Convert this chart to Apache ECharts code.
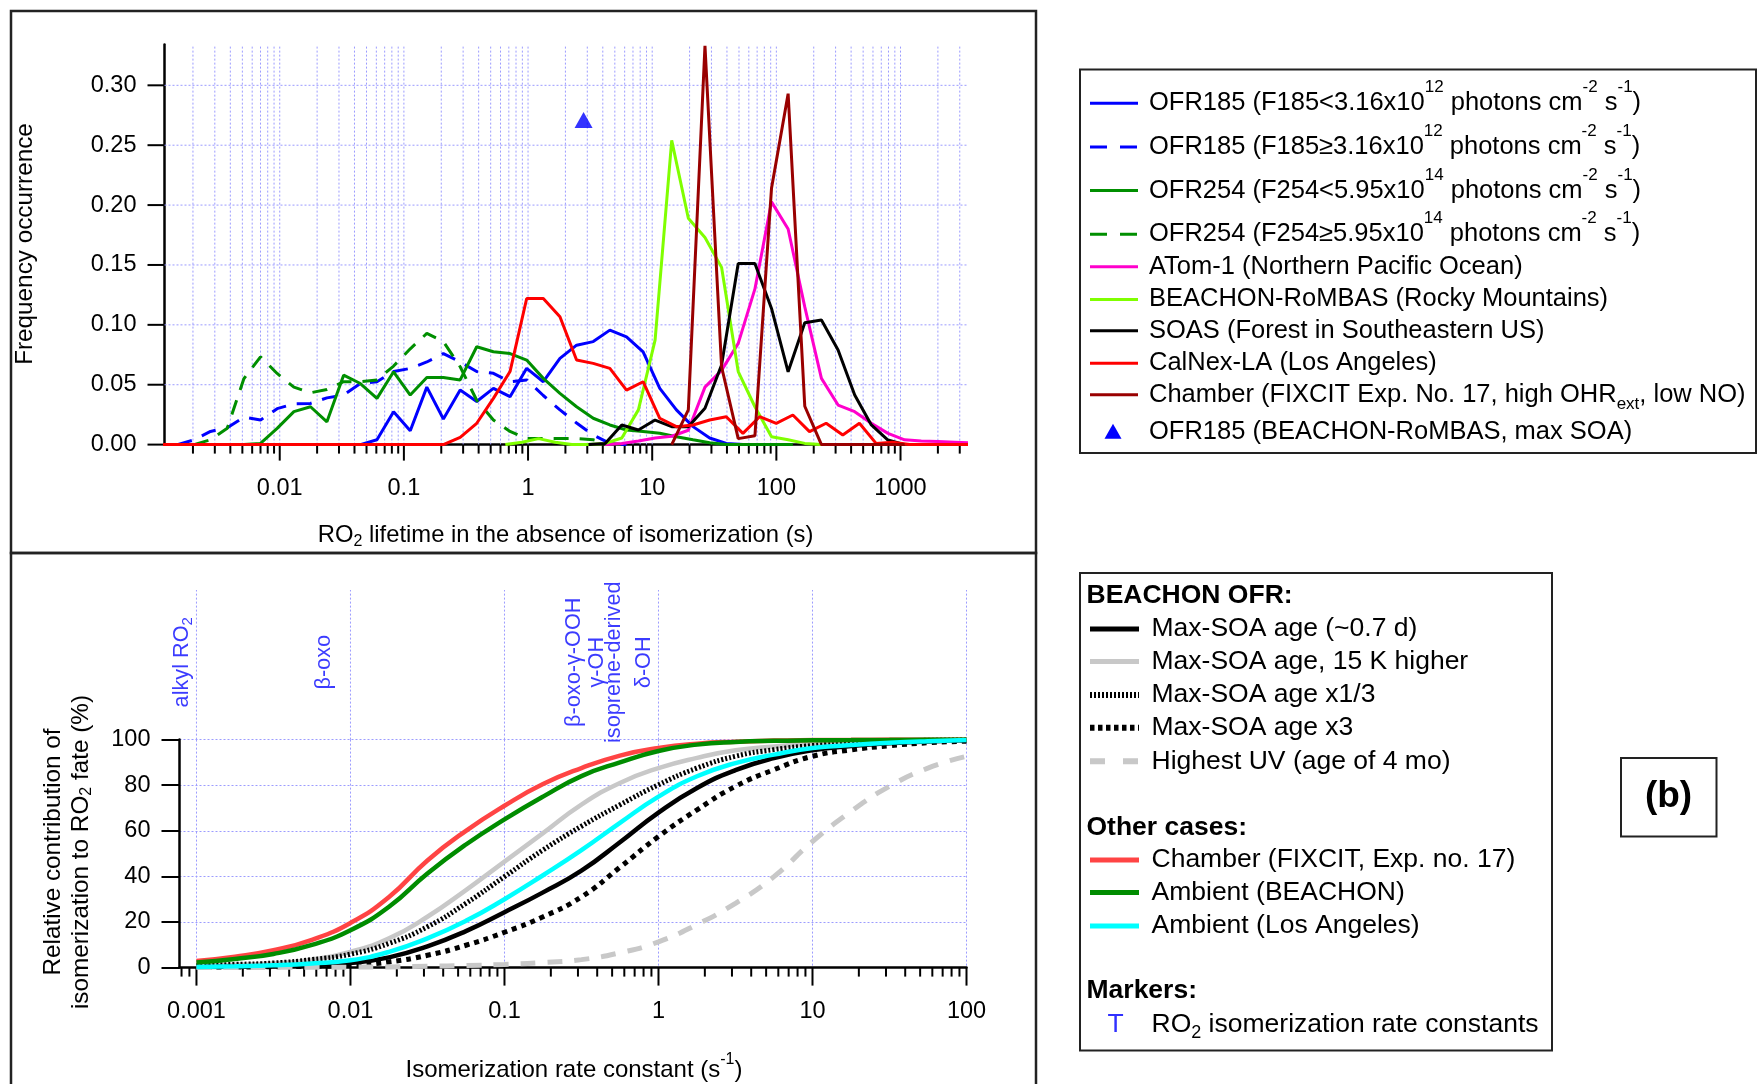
<!DOCTYPE html>
<html>
<head>
<meta charset="utf-8">
<title>RO2 lifetime and isomerization</title>
<script src="https://cdn.jsdelivr.net/npm/echarts@6.0.0/dist/echarts.min.js"></script>
<style>
  html, body { margin: 0; padding: 0; background: #fff; }
  #chart { width: 1758px; height: 1084px; }
</style>
</head>
<body>
<div id="chart"></div>
<script>
const _ = null;

// ---- panel (a): frequency of RO2 lifetime (s) ----
// two sets of log bins (the field studies are binned slightly offset)
const binsA = [0.0011, 0.0015, 0.00204, 0.00277, 0.00378, 0.00514, 0.0070, 0.00953, 0.0130, 0.0177,
  0.0240, 0.0327, 0.0446, 0.0607, 0.0826, 0.1125, 0.153, 0.208, 0.284, 0.386,
  0.526, 0.716, 0.975, 1.327, 1.807, 2.46, 3.35, 4.56, 6.21, 8.45,
  11.51, 15.67, 21.33, 29.04, 39.5, 53.8, 73.3, 99.8, 135.8, 184.9,
  251.8, 342.8, 466.7, 635.3, 865, 1178, 1603, 2183, 2972, 4046];
const binsB = [0.00101, 0.00137, 0.00187, 0.00254, 0.00346, 0.00471, 0.00641, 0.00873, 0.0119, 0.0162,
  0.0220, 0.0300, 0.0409, 0.0556, 0.0757, 0.1031, 0.140, 0.191, 0.260, 0.354,
  0.482, 0.656, 0.893, 1.216, 1.656, 2.254, 3.069, 4.178, 5.69, 7.74,
  10.55, 14.36, 19.54, 26.61, 36.2, 49.3, 67.2, 91.4, 124.4, 169.4,
  230.7, 314.1, 427.6, 582.1, 792.5, 1079, 1469, 2000, 2723, 3707];

const ofr185Low = [_, _, _, _, _, _, _, _, _, _, _, _,
  0, 0.004, 0.0275, 0.0116, 0.048, 0.0214, 0.0455, 0.036, 0.047, 0.040,
  0.0637, 0.0525, 0.072, 0.083, 0.086, 0.0956, 0.090, 0.0775, 0.047, 0.029,
  0.015, 0.0055, 0.001, 0,
  _, _, _, _, _, _, _, _, _, _, _, _, _, _];
const ofr185High = [_,
  0, 0.004, 0.011, 0.014, 0.023, 0.0205, 0.030, 0.034, 0.0344, 0.039,
  0.0414, 0.051, 0.0525, 0.061, 0.0636, 0.069, 0.076, 0.069, 0.061, 0.0595,
  0.0525, 0.054, 0.041, 0.029, 0.018, 0.008, 0.001, 0,
  _, _, _, _, _, _, _, _, _, _, _, _, _, _, _, _, _, _, _, _, _];
const ofr254Low = [_, _, _, _, _,
  0, 0.001, 0.0135, 0.0275, 0.0316, 0.019, 0.058, 0.051, 0.0386, 0.0608,
  0.0414, 0.056, 0.056, 0.054, 0.0817, 0.0775, 0.076, 0.0706, 0.0553, 0.0428,
  0.0316, 0.022, 0.0164, 0.0122, 0.011, 0.0095, 0.0066, 0.004, 0.0015, 0,
  0, 0, 0, 0,
  _, _, _, _, _, _, _, _, _, _, _];
const ofr254High = [_, _,
  0, 0.004, 0.0136, 0.055, 0.0733, 0.0594, 0.048, 0.0433, 0.046,
  0.0525, 0.0525, 0.054, 0.0656, 0.080, 0.0928, 0.086, 0.065, 0.037, 0.0205,
  0.011, 0.005, 0.005, 0.005, 0.005, 0.004, 0.001, 0,
  _, _, _, _, _, _, _, _, _, _, _, _, _, _, _, _, _, _, _, _, _];
const calnexLA = [0, 0, 0, 0, 0, 0, 0, 0, 0, 0, 0, 0, 0, 0, 0, 0, 0, 0,
  0.006, 0.0178, 0.0386, 0.061, 0.122, 0.122, 0.1067, 0.0706, 0.0678, 0.0636,
  0.0455, 0.0525, 0.022, 0.015, 0.0164, 0.0205, 0.0233, 0.0094, 0.0233, 0.0178,
  0.0247, 0.0108, 0.0178, 0.008, 0.0178, 0.001, 0.002, 0, 0, 0, 0, 0];
const atom1 = [_, _, _, _, _, _, _, _, _, _, _, _, _, _, _, _, _, _, _, _, _, _, _, _, _, _, _,
  0, 0.001, 0.003, 0.0055, 0.007, 0.012, 0.048, 0.062, 0.0845, 0.130,
  0.2027, 0.180, 0.115, 0.0553, 0.033, 0.0275, 0.0178, 0.0094, 0.004, 0.003,
  0.0025, 0.002, 0.0015];
const beachonRombas = [_, _, _, _, _, _, _, _, _, _, _, _, _, _, _, _, _, _, _, _, _,
  0, 0.002, 0.005, 0.002, 0, 0, 0.001, 0.0055, 0.029, 0.0873,
  0.254, 0.189, 0.173, 0.148, 0.061, 0.0316, 0.0066, 0.004, 0.001, 0,
  _, _, _, _, _, _, _, _, _];
const soas = [_, _, _, _, _, _, _, _, _, _, _, _, _, _, _, _, _, _, _, _, _, _, _, _, _, _,
  0, 0.001, 0.0164, 0.0122, 0.0205, 0.015, 0.015, 0.0303, 0.0664, 0.1512,
  0.1512, 0.1137, 0.0608, 0.1017, 0.104, 0.079, 0.0414, 0.0164, 0.0038, 0,
  _, _, _, _];
const chamberNo17 = [_, _, _, _, _, _, _, _, _, _, _, _, _, _, _, _, _, _, _, _, _, _, _, _, _, _, _, _, _, _, _,
  0, 0.029, 0.333, 0.065, 0.005, 0.0074, 0.214, 0.293, 0.032, 0,
  0, 0, 0, 0, 0,
  _, _, _, _];
const ofr185MaxSoa = [[2.8, 0.271]];

// ---- panel (b): isomerization share (%) vs rate constant (1/s) ----
const rateK = [0.001, 0.00178, 0.00316, 0.00562, 0.01, 0.0178, 0.0316, 0.0562, 0.1, 0.178, 0.316,
  0.562, 1, 1.78, 3.16, 5.62, 10, 17.8, 31.6, 56.2, 100];
const maxSoaAge = [0.3, 0.4, 0.7, 1.2, 2.0, 4.5, 9.3, 16, 24.3, 33, 42.5, 55, 68, 78.8, 86.6, 91.9, 95.3, 97.2, 98.4, 99.2, 99.6];
const maxSoaHot = [1.0, 1.3, 1.8, 3.5, 6.9, 12.8, 22.3, 34, 46.5, 59, 71.5, 81, 87.5, 92, 95.3, 97, 98.2, 99, 99.4, 99.7, 99.8];
const maxSoaThird = [1.0, 1.4, 2.0, 3.5, 5.9, 10.6, 17.9, 28.2, 39.9, 51.6, 62, 71.4, 80.2, 87.5, 92.7, 95.6, 97.4, 98.5, 99.3, 99.7, 100];
const maxSoaTriple = [0.3, 0.3, 0.4, 0.6, 1.0, 2.5, 5.4, 9.8, 15.5, 22.3, 31, 44, 57.5, 69.2, 79.5, 86.8, 92.7, 95.5, 97.3, 98.6, 99.3];
const highestUv = [0, 0, 0.1, 0.1, 0.2, 0.3, 0.6, 0.9, 1.4, 2.2, 3.5, 6.5, 11.3, 18.9, 28.2, 39.9, 55.3, 68.5, 79.5, 87.5, 92.7];
const chamberFixcit = [2.9, 4.8, 7.6, 12.2, 19.6, 31, 47, 60, 71, 80.5, 87.5, 93, 96.3, 98.2, 99.1, 99.6, 99.8, 99.9, 100, 100, 100];
const ambientBeachon = [2.2, 3.8, 6.0, 10, 16.4, 26.7, 41.3, 54, 65, 75, 84, 90, 95, 97.8, 99, 99.5, 99.7, 99.8, 99.9, 100, 100];
const ambientLA = [0.3, 0.6, 1.0, 1.8, 3.2, 6.9, 12.8, 20.5, 30, 40.5, 51.5, 63.5, 75, 83.9, 89.7, 93.4, 96.3, 97.6, 98.6, 99.3, 99.8];

const rateMarkerK = [0.000805, 0.00675, 0.284, 0.401, 0.517, 0.81];
const rateMarkerNames = ['alkyl RO{sub|2}', 'β-oxo', 'β-oxo-γ-OOH', 'γ-OH', 'isoprene-derived', 'δ-OH'];

// axis ticks
const topMajors = [0.01, 0.1, 1, 10, 100, 1000];
const botMajors = [0.001, 0.01, 0.1, 1, 10, 100];
const topYTicks = [0, 0.05, 0.10, 0.15, 0.20, 0.25, 0.30];

const FONT = '"Liberation Sans", Arial, Helvetica, sans-serif';
const GRID_COLOR = '#9c9cff';
const TOP_XMIN = 0.00118, TOP_XMAX = 3400, TOP_YMAX = 0.334;
const BOT_XMIN = 0.000776, BOT_XMAX = 100;

function minorsBetween(lo, hi) {
  const out = [];
  for (let e = -4; e <= 4; e++) {
    for (let m = 2; m <= 9; m++) {
      const v = +(m * Math.pow(10, e)).toPrecision(3);
      if (v > lo && v < hi) out.push(v);
    }
  }
  return out;
}

function pairs(bins, vals) {
  const out = [];
  vals.forEach((v, i) => { if (v !== null) out.push([bins[i], v]); });
  return out;
}

function gridStyle() { return { stroke: GRID_COLOR, lineWidth: 1, lineDash: [2, 2] }; }
function tickStyle() { return { stroke: '#000', lineWidth: 2 }; }

function rich(size, color) {
  return {
    sup: { fontSize: size, fontFamily: FONT, fill: color, color: color, lineHeight: size + 3, verticalAlign: 'top' },
    sub: { fontSize: size, fontFamily: FONT, fill: color, color: color, lineHeight: size + 3, verticalAlign: 'bottom' }
  };
}

function gText(x, y, text, o) {
  o = o || {};
  const color = o.color || '#000';
  return {
    type: 'text', x: x, y: y, rotation: o.rotation || 0, silent: true,
    style: {
      text: text, fill: color, fontSize: o.size || 23, fontFamily: FONT,
      fontWeight: o.weight || 'normal', align: o.align || 'left', verticalAlign: 'middle',
      lineHeight: o.lineHeight, rich: rich(o.subSize || Math.round((o.size || 23) * 0.68), color)
    }
  };
}

function gLine(x1, x2, y, color, width, dash) {
  return {
    type: 'line', silent: true,
    shape: { x1: x1, y1: y, x2: x2, y2: y },
    style: { stroke: color, lineWidth: width, lineDash: dash === 'solid' ? null : dash }
  };
}

function gRect(x, y, w, h, lw) {
  return { type: 'rect', silent: true, shape: { x: x, y: y, width: w, height: h },
    style: { fill: 'none', stroke: '#222', lineWidth: lw } };
}

// ---- series definitions ----
const topDefs = [
  { bins: binsA, vals: ofr185Low, color: '#0000ff', dash: 'solid',
    label: 'OFR185 (F185<3.16x10{sup|12} photons cm{sup|-2} s{sup|-1})', lh: 48 },
  { bins: binsA, vals: ofr185High, color: '#0000ff', dash: [15, 11],
    label: 'OFR185 (F185≥3.16x10{sup|12} photons cm{sup|-2} s{sup|-1})', lh: 48 },
  { bins: binsA, vals: ofr254Low, color: '#008f00', dash: 'solid',
    label: 'OFR254 (F254<5.95x10{sup|14} photons cm{sup|-2} s{sup|-1})', lh: 48 },
  { bins: binsA, vals: ofr254High, color: '#008f00', dash: [15, 11],
    label: 'OFR254 (F254≥5.95x10{sup|14} photons cm{sup|-2} s{sup|-1})', lh: 48 },
  { bins: binsB, vals: atom1, color: '#ff00cc', dash: 'solid', label: 'ATom-1 (Northern Pacific Ocean)' },
  { bins: binsB, vals: beachonRombas, color: '#80ff00', dash: 'solid', label: 'BEACHON-RoMBAS (Rocky Mountains)' },
  { bins: binsB, vals: soas, color: '#000000', dash: 'solid', label: 'SOAS (Forest in Southeastern US)' },
  { bins: binsA, vals: calnexLA, color: '#ff0000', dash: 'solid', label: 'CalNex-LA (Los Angeles)' },
  { bins: binsB, vals: chamberNo17, color: '#990000', dash: 'solid',
    label: 'Chamber (FIXCIT Exp. No. 17, high OHR{sub|ext}, low NO)', lh: 36 }
];
const topLegendY = [103.2, 146.9, 190.6, 234.3, 266.8, 299.4, 330.8, 363.3, 394.7, 431.7];

const botDefs = [
  { vals: maxSoaAge, color: '#000000', dash: 'solid', width: 4.5, legendDash: 'solid', label: 'Max-SOA age (~0.7 d)' },
  { vals: maxSoaHot, color: '#c8c8c8', dash: 'solid', width: 4.5, legendDash: 'solid', label: 'Max-SOA age, 15 K higher' },
  { vals: maxSoaThird, color: '#000000', dash: [2, 2], width: 5, legendDash: [2, 2], label: 'Max-SOA age x1/3' },
  { vals: maxSoaTriple, color: '#000000', dash: [5, 5], width: 5, legendDash: [4.5, 3.5], label: 'Max-SOA age x3' },
  { vals: highestUv, color: '#c8c8c8', dash: [15, 12], width: 5, legendDash: [15, 18], label: 'Highest UV (age of 4 mo)' },
  { vals: chamberFixcit, color: '#ff4444', dash: 'solid', width: 4.5, legendDash: 'solid', label: 'Chamber (FIXCIT, Exp. no. 17)' },
  { vals: ambientBeachon, color: '#008c00', dash: 'solid', width: 4.5, legendDash: 'solid', label: 'Ambient (BEACHON)' },
  { vals: ambientLA, color: '#00ffff', dash: 'solid', width: 4.5, legendDash: 'solid', label: 'Ambient (Los Angeles)' }
];
const botLegendY = [629, 661.5, 695, 727.7, 761.3, 860, 892.5, 926];

const topMinors = minorsBetween(TOP_XMIN, TOP_XMAX).filter(v => topMajors.indexOf(v) < 0);
const botMinors = minorsBetween(BOT_XMIN, BOT_XMAX).filter(v => botMajors.indexOf(v) < 0);

const logFmt = v => String(parseFloat((+v).toPrecision(4)));

const series = [];

// panel (a) vertical grid + x ticks
series.push({
  type: 'custom', xAxisIndex: 0, yAxisIndex: 0, z: 1, silent: true, animation: false,
  data: topMajors.map(v => [v, 1]).concat(topMinors.map(v => [v, 0])),
  renderItem: (params, api) => {
    const v = api.value(0), major = api.value(1) > 0;
    const b = api.coord([v, 0]), t = api.coord([v, TOP_YMAX]);
    return { type: 'group', children: [
      { type: 'line', shape: { x1: b[0], y1: b[1], x2: t[0], y2: t[1] }, style: gridStyle() },
      { type: 'line', shape: { x1: b[0], y1: b[1], x2: b[0], y2: b[1] + (major ? 16 : 9) }, style: tickStyle() }
    ] };
  }
});
// panel (a) horizontal grid + y ticks
series.push({
  type: 'custom', xAxisIndex: 0, yAxisIndex: 0, z: 1, silent: true, animation: false,
  data: topYTicks.map(y => [TOP_XMIN, y]),
  renderItem: (params, api) => {
    const y = api.value(1);
    const l = api.coord([TOP_XMIN, y]), r = api.coord([TOP_XMAX, y]);
    const kids = [{ type: 'line', shape: { x1: l[0] - 17, y1: l[1], x2: l[0], y2: l[1] }, style: tickStyle() }];
    if (y > 0) kids.push({ type: 'line', shape: { x1: l[0], y1: l[1], x2: r[0], y2: r[1] }, style: gridStyle() });
    return { type: 'group', children: kids };
  }
});

topDefs.forEach(d => {
  series.push({
    type: 'line', xAxisIndex: 0, yAxisIndex: 0, z: 3, silent: true, animation: false,
    data: pairs(d.bins, d.vals), symbol: 'none', showSymbol: false,
    lineStyle: { color: d.color, width: 3, type: d.dash }
  });
});
series.push({
  type: 'scatter', xAxisIndex: 0, yAxisIndex: 0, z: 4, silent: true, animation: false,
  data: ofr185MaxSoa, symbol: 'triangle', symbolSize: [18, 16], itemStyle: { color: '#0000ff' }
});

// panel (b) x ticks (majors + minors)
series.push({
  type: 'custom', xAxisIndex: 1, yAxisIndex: 1, z: 1, silent: true, animation: false,
  data: botMajors.map(v => [v, 1]).concat(botMinors.map(v => [v, 0])),
  renderItem: (params, api) => {
    const v = api.value(0), major = api.value(1) > 0;
    const b = api.coord([v, 0]);
    return { type: 'line', shape: { x1: b[0], y1: b[1], x2: b[0], y2: b[1] + (major ? 18 : 9) }, style: tickStyle() };
  }
});
// panel (b) decade grid above the curves (marker label area)
series.push({
  type: 'custom', xAxisIndex: 2, yAxisIndex: 2, z: 1, silent: true, animation: false,
  data: botMajors.map(v => [v, 0]),
  renderItem: (params, api) => {
    const v = api.value(0);
    const b = api.coord([v, 0]), t = api.coord([v, 1]);
    return { type: 'line', shape: { x1: b[0], y1: b[1], x2: t[0], y2: t[1] }, style: gridStyle() };
  }
});

botDefs.forEach(d => {
  series.push({
    type: 'line', xAxisIndex: 1, yAxisIndex: 1, z: 3, silent: true, animation: false, smooth: true,
    data: rateK.map((k, i) => [k, d.vals[i]]), symbol: 'none', showSymbol: false,
    lineStyle: { color: d.color, width: d.width, type: d.dash }
  });
});

// isomerization rate constant markers (rotated names)
series.push({
  type: 'scatter', xAxisIndex: 2, yAxisIndex: 2, z: 4, silent: true, animation: false,
  symbol: 'circle', symbolSize: 2, itemStyle: { color: 'rgba(0,0,0,0)' },
  data: rateMarkerK.map((k, i) => ({ value: [k, 0.517], name: rateMarkerNames[i] })),
  label: {
    show: true, position: 'inside', rotate: 90, color: '#0a0aff', fontSize: 21.7, fontFamily: FONT,
    lineHeight: 26, formatter: p => p.name, rich: rich(15, '#0a0aff')
  }
});

// ---- decorations: frames, legends, titles ----
const graphic = [
  gRect(11, 11, 1025, 542, 2.5),
  gRect(11, 553, 1025, 545, 2.5),
  gRect(1080, 69.5, 676, 383.5, 2),
  gRect(1080, 573, 472, 477.6, 2),
  gRect(1621, 758, 95.5, 78.4, 2),
  gText(1668.5, 797, '(b)', { size: 37, weight: 'bold', align: 'center' }),
  gText(565.6, 535, 'RO{sub|2} lifetime in the absence of isomerization (s)', { size: 23.8, align: 'center', lineHeight: 30, subSize: 16 }),
  gText(25, 244, 'Frequency occurrence', { size: 24.3, align: 'center', rotation: Math.PI / 2 }),
  gText(574, 1070, 'Isomerization rate constant (s{sup|-1})', { size: 24, align: 'center', lineHeight: 36, subSize: 16 }),
  gText(67, 852, 'Relative contribution of\nisomerization to RO{sub|2} fate (%)',
    { size: 24.3, align: 'center', rotation: Math.PI / 2, lineHeight: 28, subSize: 16 })
];

topDefs.forEach((d, i) => {
  const y = topLegendY[i];
  graphic.push(gLine(1090, 1138, y, d.color, 3, d.dash === 'solid' ? 'solid' : [17, 13]));
  graphic.push(gText(1149, y, d.label, { size: 25.5, lineHeight: d.lh, subSize: 17 }));
});
graphic.push({
  type: 'polygon', silent: true,
  shape: { points: [[1113, topLegendY[9] - 8], [1104.5, topLegendY[9] + 7], [1121.5, topLegendY[9] + 7]] },
  style: { fill: '#0000ff' }
});
graphic.push(gText(1149, topLegendY[9], 'OFR185 (BEACHON-RoMBAS, max SOA)', { size: 25.5 }));

graphic.push(gText(1086.5, 595.4, 'BEACHON OFR:', { size: 26.5, weight: 'bold' }));
graphic.push(gText(1086.5, 827.4, 'Other cases:', { size: 26.5, weight: 'bold' }));
graphic.push(gText(1086.5, 991, 'Markers:', { size: 26.5, weight: 'bold' }));
botDefs.forEach((d, i) => {
  const y = botLegendY[i];
  graphic.push(gLine(1090, 1139, y, d.color, d.dash === 'solid' ? 5 : 6, d.legendDash));
  graphic.push(gText(1151.5, y, d.label, { size: 26.5 }));
});
graphic.push(gText(1115.6, 1024.8, 'T', { size: 26.5, color: '#3030ff', align: 'center' }));
graphic.push(gText(1151.5, 1024.8, 'RO{sub|2} isomerization rate constants', { size: 26.5, lineHeight: 34, subSize: 18 }));

const axisLineStyle = { show: true, lineStyle: { color: '#000', width: 2.5 } };
const labelStyle = { color: '#000', fontSize: 23.5, fontFamily: FONT };

const option = {
  animation: false,
  backgroundColor: '#ffffff',
  textStyle: { fontFamily: FONT },
  grid: [
    { left: 164.5, top: 44.6, width: 802, height: 400, outerBoundsMode: 'none', containLabel: false },
    { left: 179.5, top: 739.6, width: 787, height: 228, outerBoundsMode: 'none', containLabel: false },
    { left: 179.5, top: 590, width: 787, height: 149.6, outerBoundsMode: 'none', containLabel: false }
  ],
  xAxis: [
    { type: 'log', logBase: 10, gridIndex: 0, min: TOP_XMIN, max: TOP_XMAX,
      axisLine: axisLineStyle, axisTick: { show: false }, splitLine: { show: false }, minorTick: { show: false },
      axisLabel: Object.assign({ margin: 32, showMinLabel: false, showMaxLabel: false, formatter: logFmt }, labelStyle) },
    { type: 'log', logBase: 10, gridIndex: 1, min: BOT_XMIN, max: BOT_XMAX,
      axisLine: axisLineStyle, axisTick: { show: false },
      splitLine: { show: true, lineStyle: { color: GRID_COLOR, width: 1, type: [2, 2] } },
      axisLabel: Object.assign({ margin: 32, showMinLabel: false, formatter: logFmt }, labelStyle) },
    { type: 'log', logBase: 10, gridIndex: 2, min: BOT_XMIN, max: BOT_XMAX,
      axisLine: { show: false }, axisTick: { show: false }, axisLabel: { show: false }, splitLine: { show: false } }
  ],
  yAxis: [
    { type: 'value', gridIndex: 0, min: 0, max: TOP_YMAX, interval: 0.05,
      axisLine: axisLineStyle, axisTick: { show: false }, splitLine: { show: false },
      axisLabel: Object.assign({ margin: 28, showMaxLabel: false, formatter: v => v.toFixed(2) }, labelStyle) },
    { type: 'value', gridIndex: 1, min: 0, max: 100, interval: 20,
      axisLine: axisLineStyle,
      axisTick: { show: true, length: 18, lineStyle: { color: '#000', width: 2 } },
      splitLine: { show: true, lineStyle: { color: GRID_COLOR, width: 1, type: [2, 2] } },
      axisLabel: Object.assign({ margin: 29 }, labelStyle) },
    { type: 'value', gridIndex: 2, min: 0, max: 1,
      axisLine: { show: false }, axisTick: { show: false }, axisLabel: { show: false }, splitLine: { show: false } }
  ],
  series: series,
  graphic: graphic
};

const chart = echarts.init(document.getElementById('chart'));
chart.setOption(option);
</script>
</body>
</html>
